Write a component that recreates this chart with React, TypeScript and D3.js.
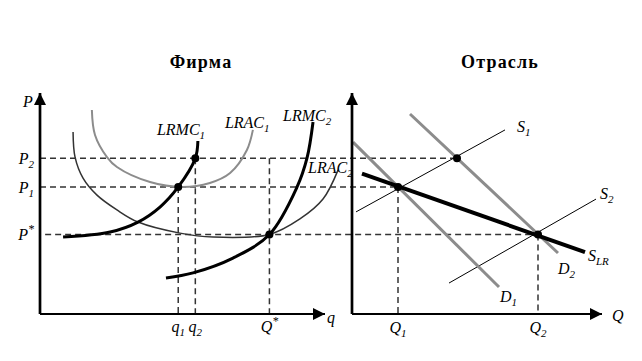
import React from 'react';
import * as d3 from 'd3';

type Pt = [number, number];

// price levels shared by both panels
const priceSubs = ['2', '1', '*'];
const priceValues = [7.05, 5.75, 3.6];

// firm quantities (q1, q2, Q*)
const firmQNames = ['q', 'q', 'Q'];
const firmQSubs = ['1', '2', '*'];
const firmQValues = [4.85, 5.45, 8.05];

// industry quantities (Q1, Q2)
const indQSubs = ['1', '2'];
const indQValues = [1.84, 7.44];

// firm cost curves
const lrac1: Pt[] = [[1.82, 9.23], [1.93, 8.1], [2.35, 7.1], [2.7, 6.65], [3.86, 5.97], [4.98, 5.75], [5.96, 5.93], [6.67, 6.38], [7.26, 7.42], [7.47, 8.33]];
const lrmc1: Pt[] = [[0.81, 3.48], [2.46, 3.71], [3.44, 4.16], [4.21, 4.84], [4.85, 5.75], [5.45, 7.05], [5.54, 7.83]];
const lrac2: Pt[] = [[1.16, 8.24], [1.23, 7.1], [1.51, 6.15], [2.0, 5.38], [2.7, 4.71], [3.44, 4.16], [4.91, 3.66], [6.07, 3.48], [8.05, 3.6], [9.12, 4.3], [9.93, 5.2], [10.46, 6.52]];
const lrmc2: Pt[] = [[4.42, 1.63], [5.37, 1.86], [6.77, 2.53], [8.05, 3.6], [9.02, 5.75], [9.37, 7.06], [9.58, 8.69]];

// industry lines
const d1: Pt[] = [[0.04, 7.78], [5.88, 1.22]];
const d2: Pt[] = [[2.32, 9.05], [8.24, 2.76]];
const s1: Pt[] = [[0.16, 4.62], [6.12, 8.33]];
const s2: Pt[] = [[3.88, 1.4], [9.76, 5.2]];
const slr: Pt[] = [[0.4, 6.35], [9.32, 2.8]];

const firmPoints: Pt[] = [[4.85, 5.75], [5.45, 7.05], [8.05, 3.6]];
const indPoints: Pt[] = [[1.84, 5.75], [4.2, 7.05], [7.44, 3.6]];

const W = 642;
const H = 361;
const FONT = "'Liberation Serif'";

const y = d3.scaleLinear().domain([0, 10]).range([314, 93]);
const xL = d3.scaleLinear().domain([0, 10]).range([40, 325]);
const xR = d3.scaleLinear().domain([0, 10]).range([352, 602]);

const Lbl = ({ x, yy, base, sub, sup, anchor }: any) => (
  <text x={x} y={yy} fontFamily={FONT} fontStyle="italic" fontSize={16} textAnchor={anchor || 'start'} fill="#000">
    {base}
    {sub && <tspan fontSize={11} dy={4}>{sub}</tspan>}
    {sup && <tspan fontSize={12} dy={-7}>{sup}</tspan>}
  </text>
);

export default function App() {
  const curveL = d3.line<Pt>().x(d => xL(d[0])).y(d => y(d[1])).curve(d3.curveCatmullRom.alpha(0.5));
  const lineR = d3.line<Pt>().x(d => xR(d[0])).y(d => y(d[1]));
  const dash = { stroke: '#333', strokeWidth: 1.5, strokeDasharray: '6,4', fill: 'none' };
  const last = (a: Pt[]) => a[a.length - 1];
  const y0 = y(0);

  return (
    <svg width={W} height={H} style={{ position: 'absolute', left: 0, top: 0, background: '#fff' }}>
      <defs>
        <marker id="arr" markerUnits="userSpaceOnUse" markerWidth={12} markerHeight={12} refX={10} refY={5} orient="auto" viewBox="0 0 10 10">
          <path d="M0,0 L10,5 L0,10 Z" fill="#000" />
        </marker>
      </defs>

      <text x={201} y={68} textAnchor="middle" fontFamily={FONT} fontWeight="bold" fontSize={18} letterSpacing={1.2}>Фирма</text>
      <text x={500} y={68} textAnchor="middle" fontFamily={FONT} fontWeight="bold" fontSize={18} letterSpacing={1.2}>Отрасль</text>

      {/* dashed guides */}
      <line x1={xL(0)} x2={xR(indPoints[1][0])} y1={y(priceValues[0])} y2={y(priceValues[0])} {...dash} />
      <line x1={xL(0)} x2={xR(indQValues[0])} y1={y(priceValues[1])} y2={y(priceValues[1])} {...dash} />
      <line x1={xL(0.18)} x2={xR(indQValues[1])} y1={y(priceValues[2])} y2={y(priceValues[2])} {...dash} />
      <line x1={xL(firmQValues[0])} x2={xL(firmQValues[0])} y1={y(priceValues[1])} y2={y0} {...dash} />
      <line x1={xL(firmQValues[1])} x2={xL(firmQValues[1])} y1={y(priceValues[0])} y2={y0} {...dash} />
      <line x1={xL(firmQValues[2])} x2={xL(firmQValues[2])} y1={y(priceValues[0])} y2={y0} {...dash} />
      <line x1={xR(indQValues[0])} x2={xR(indQValues[0])} y1={y(priceValues[1])} y2={y0} {...dash} />
      <line x1={xR(indQValues[1])} x2={xR(indQValues[1])} y1={y(priceValues[2])} y2={y0} {...dash} />

      {/* firm curves */}
      <path d={curveL(lrac1) || ''} fill="none" stroke="#8c8c8c" strokeWidth={2} />
      <path d={curveL(lrac2) || ''} fill="none" stroke="#333" strokeWidth={1.5} />
      <path d={curveL(lrmc1) || ''} fill="none" stroke="#000" strokeWidth={3} />
      <path d={curveL(lrmc2) || ''} fill="none" stroke="#000" strokeWidth={3} />

      {/* industry lines */}
      <path d={lineR(s1) || ''} fill="none" stroke="#000" strokeWidth={1} />
      <path d={lineR(s2) || ''} fill="none" stroke="#000" strokeWidth={1} />
      <path d={lineR(d1) || ''} fill="none" stroke="#8c8c8c" strokeWidth={3} />
      <path d={lineR(d2) || ''} fill="none" stroke="#8c8c8c" strokeWidth={3} />
      <path d={lineR(slr) || ''} fill="none" stroke="#000" strokeWidth={4} />

      {/* axes */}
      <line x1={xL(0)} x2={xL(0)} y1={y0} y2={y(10)} stroke="#000" strokeWidth={2.7} markerEnd="url(#arr)" />
      <line x1={xL(0)} x2={xL(10)} y1={y0} y2={y0} stroke="#000" strokeWidth={2} markerEnd="url(#arr)" />
      <line x1={xR(0)} x2={xR(0)} y1={y0} y2={y(10)} stroke="#000" strokeWidth={2.7} markerEnd="url(#arr)" />
      <line x1={xR(0)} x2={xR(10)} y1={y0} y2={y0} stroke="#000" strokeWidth={2} markerEnd="url(#arr)" />

      {firmPoints.map((p, i) => <circle key={'f' + i} cx={xL(p[0])} cy={y(p[1])} r={4} fill="#000" />)}
      {indPoints.map((p, i) => <circle key={'i' + i} cx={xR(p[0])} cy={y(p[1])} r={4} fill="#000" />)}

      {/* axis labels */}
      <Lbl x={23} yy={107} base="P" />
      <Lbl x={327} yy={323} base="q" />
      <Lbl x={612} yy={321} base="Q" />
      {priceValues.map((v, i) => (
        <Lbl key={'p' + i} x={34} yy={y(v) + 6} base="P" anchor="end"
          sub={priceSubs[i] !== '*' ? priceSubs[i] : undefined}
          sup={priceSubs[i] === '*' ? '*' : undefined} />
      ))}
      {firmQValues.map((v, i) => (
        <Lbl key={'q' + i} x={xL(v)} yy={y0 + 18} base={firmQNames[i]} anchor="middle"
          sub={firmQSubs[i] !== '*' ? firmQSubs[i] : undefined}
          sup={firmQSubs[i] === '*' ? '*' : undefined} />
      ))}
      {indQValues.map((v, i) => (
        <Lbl key={'Q' + i} x={xR(v)} yy={y0 + 19} base="Q" anchor="middle" sub={indQSubs[i]} />
      ))}

      {/* curve labels */}
      <Lbl x={xL(last(lrmc1)[0]) - 41} yy={y(last(lrmc1)[1]) - 6} base="LRMC" sub="1" />
      <Lbl x={xL(last(lrac1)[0]) - 28} yy={y(last(lrac1)[1]) - 2} base="LRAC" sub="1" />
      <Lbl x={xL(last(lrmc2)[0]) - 30} yy={y(last(lrmc2)[1]) - 1} base="LRMC" sub="2" />
      <Lbl x={xL(last(lrac2)[0]) - 30} yy={y(last(lrac2)[1]) + 3} base="LRAC" sub="2" />
      <Lbl x={xR(last(s1)[0]) + 12} yy={y(last(s1)[1]) + 2} base="S" sub="1" />
      <Lbl x={xR(last(s2)[0]) + 4} yy={y(last(s2)[1])} base="S" sub="2" />
      <Lbl x={xR(last(d1)[0]) + 1} yy={y(last(d1)[1]) + 15} base="D" sub="1" />
      <Lbl x={xR(last(d2)[0])} yy={y(last(d2)[1]) + 21} base="D" sub="2" />
      <Lbl x={xR(last(slr)[0]) + 3} yy={y(last(slr)[1]) + 9} base="S" sub="LR" />
    </svg>
  );
}
